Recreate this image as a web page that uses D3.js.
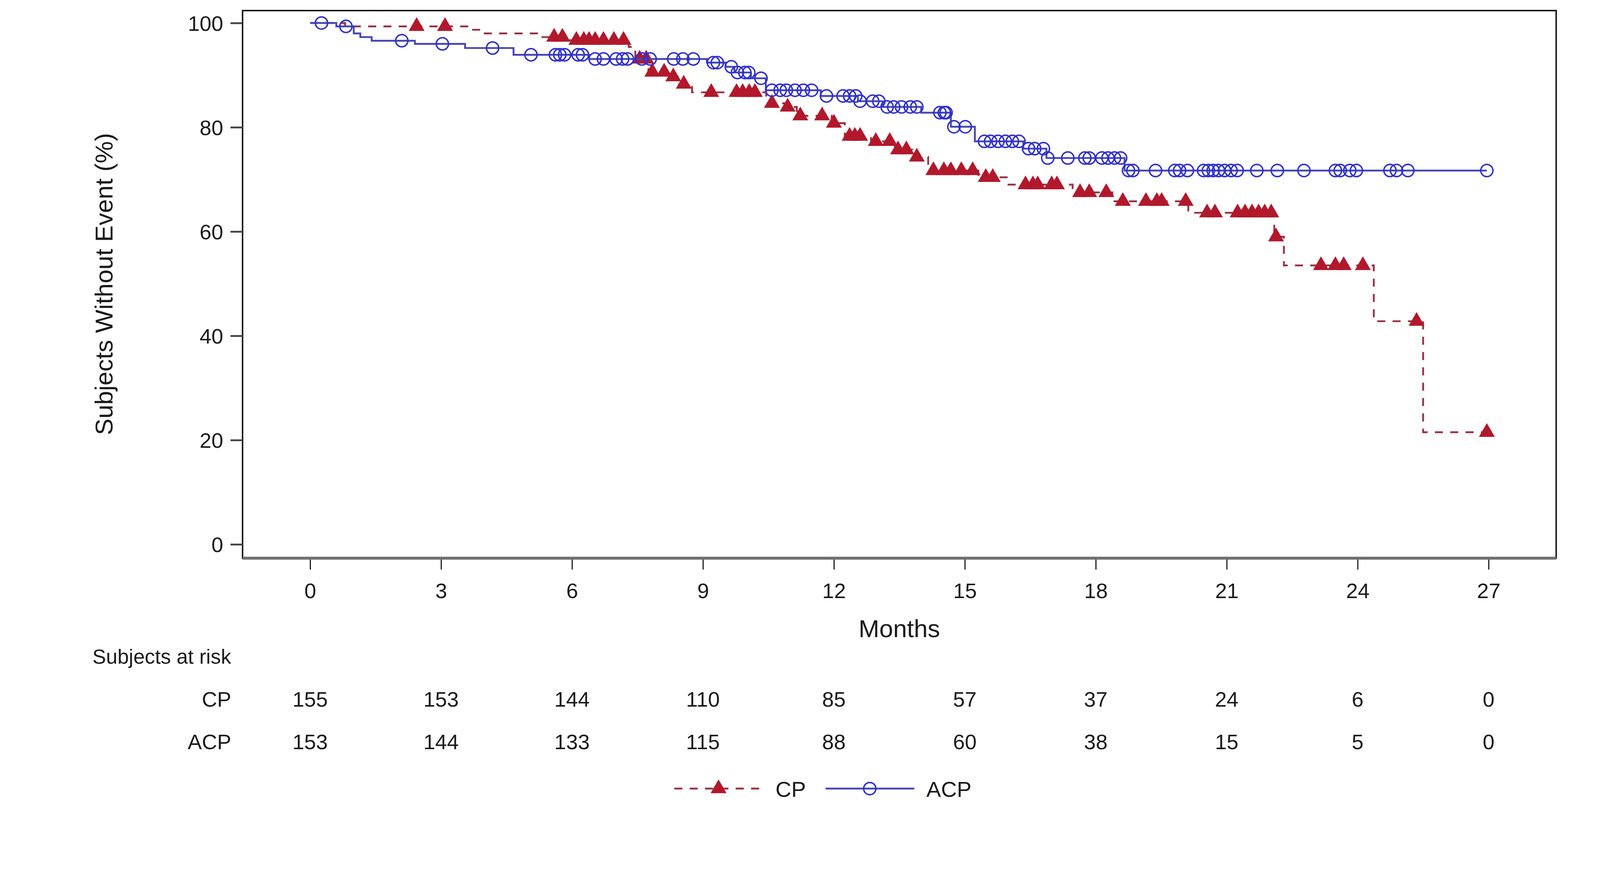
<!DOCTYPE html>
<html>
<head>
<meta charset="utf-8">
<script src="https://cdn.jsdelivr.net/npm/d3@7/dist/d3.min.js"></script>
<style>
  html, body { margin: 0; padding: 0; width: 100%; height: 100%; overflow: hidden; background: #fff; }
  svg { display: block; width: 100vw; height: 100vh; }
  text { font-family: "Liberation Sans", Arial, sans-serif; fill: #1a1a1a; }
</style>
</head>
<body>
<svg id="chart" viewBox="0 0 4380 2231" preserveAspectRatio="xMidYMin meet"></svg>
<script>
var tickMonths = [0, 3, 6, 9, 12, 15, 18, 21, 24, 27]
var yTicks = [0, 20, 40, 60, 80, 100]

// CP: step times (months) and survival after each step
var cpStepMonths = [0, 0.8, 3.7, 3.9, 5.2, 5.95, 7.3, 7.45, 7.75, 8.2, 8.45, 8.75, 10.45, 10.88, 11.15, 11.95, 12.25, 12.85, 13.4, 13.8, 14.16, 15.31, 16.0, 17.47, 18.38, 20.12, 22.09, 22.31, 24.37, 25.5]
var cpStepValues = [100, 99.35, 98.7, 98.0, 97.3, 96.7, 95.4, 93.1, 90.6, 89.7, 88.3, 86.7, 84.6, 83.9, 82.2, 80.8, 78.3, 77.3, 75.7, 74.3, 71.7, 70.4, 69.0, 67.5, 65.8, 63.6, 59.0, 53.5, 42.8, 21.5]
var cpCensorMonths = [2.44, 3.09, 5.59, 5.78, 6.1, 6.27, 6.39, 6.53, 6.72, 6.96, 7.18, 7.55, 7.7, 7.84, 8.11, 8.32, 8.56, 9.19, 9.77, 9.91, 10.06, 10.19, 10.58, 10.94, 11.23, 11.73, 12.0, 12.36, 12.48, 12.6, 12.96, 13.28, 13.47, 13.66, 13.9, 14.28, 14.52, 14.68, 14.92, 15.18, 15.48, 15.64, 16.39, 16.56, 16.67, 16.99, 17.11, 17.64, 17.85, 18.24, 18.62, 19.15, 19.4, 19.51, 20.06, 20.55, 20.73, 21.25, 21.42, 21.58, 21.73, 21.87, 22.02, 22.13, 23.16, 23.49, 23.68, 24.12, 25.35, 26.96]

// ACP
var acpStepMonths = [0, 0.6, 1.0, 1.15, 1.41, 2.4, 3.55, 4.66, 6.39, 9.09, 9.52, 9.72, 10.1, 10.44, 11.7, 12.55, 13.12, 14.0, 14.68, 15.23, 16.34, 16.87, 18.66]
var acpStepValues = [100, 99.35, 98.0, 97.3, 96.6, 96.0, 95.2, 93.9, 93.1, 92.4, 91.6, 90.5, 89.4, 87.1, 86.0, 85.0, 83.9, 82.8, 80.1, 77.3, 75.9, 74.1, 71.7]
var acpCensorMonths = [0.26, 0.82, 2.1, 3.03, 4.18, 5.06, 5.62, 5.72, 5.83, 6.14, 6.24, 6.53, 6.72, 7.01, 7.16, 7.27, 7.6, 7.79, 8.33, 8.54, 8.78, 9.24, 9.33, 9.65, 9.79, 9.96, 10.05, 10.33, 10.58, 10.77, 10.91, 11.11, 11.3, 11.49, 11.83, 12.21, 12.36, 12.5, 12.6, 12.89, 13.03, 13.22, 13.37, 13.55, 13.75, 13.9, 14.43, 14.53, 14.57, 14.75, 15.01, 15.45, 15.59, 15.76, 15.93, 16.09, 16.24, 16.46, 16.6, 16.8, 16.9, 17.36, 17.75, 17.85, 18.14, 18.28, 18.43, 18.57, 18.75, 18.85, 19.37, 19.81, 19.92, 20.1, 20.47, 20.58, 20.69, 20.81, 20.95, 21.1, 21.24, 21.69, 22.16, 22.77, 23.49, 23.6, 23.82, 23.97, 24.74, 24.89, 25.15, 26.96]

var riskGroups = ['CP', 'ACP']
var riskCP = [155, 153, 144, 110, 85, 57, 37, 24, 6, 0]
var riskACP = [153, 144, 133, 115, 88, 60, 38, 15, 5, 0]

var red = '#b2182b', redLine = '#9a3044'
var blue = '#2f2fd0', blueLine = '#4646b4'

var svg = d3.select('#chart')
var frame = {left: 664, top: 29, right: 4260, bottom: 1529}

var x = d3.scaleLinear().domain([0, 27]).range([849, 4075])
var y = d3.scaleLinear().domain([0, 100]).range([1491, 63])

function stepPoints(times, values, censors) {
  var pts = times.map(function(t, i) { return [t, values[i]] })
  pts.push([d3.max(censors), values[values.length - 1]])
  return pts
}
function valueAt(times, values, t) {
  return values[d3.bisectRight(times, t) - 1]
}

var line = d3.line()
  .x(function(d) { return x(d[0]) })
  .y(function(d) { return y(d[1]) })
  .curve(d3.curveStepAfter)

var triangle = d3.symbol().type(d3.symbolTriangle).size(820)
var circle = d3.symbol().type(d3.symbolCircle).size(880)

// frame
svg.append('rect')
  .attr('x', frame.left).attr('y', frame.top)
  .attr('width', frame.right - frame.left).attr('height', frame.bottom - frame.top)
  .attr('fill', 'none').attr('stroke', '#111').attr('stroke-width', 4)

// y axis
var yAxis = svg.append('g')
  .attr('transform', 'translate(' + frame.left + ',0)')
  .call(d3.axisLeft(y).tickValues(yTicks).tickSize(33).tickPadding(20))
yAxis.select('.domain').remove()
yAxis.selectAll('line').attr('stroke', '#444').attr('stroke-width', 5)
yAxis.selectAll('text').attr('font-size', 58).attr('dy', '0.36em')
  .style('font-family', '"Liberation Sans", Arial, sans-serif').attr('fill', '#1a1a1a')

// x axis
var xAxis = svg.append('g')
  .attr('transform', 'translate(0,' + frame.bottom + ')')
  .call(d3.axisBottom(x).tickValues(tickMonths).tickSize(31).tickPadding(0))
xAxis.select('.domain').remove()
xAxis.selectAll('line').attr('stroke', '#111').attr('stroke-width', 3)
xAxis.selectAll('text').attr('font-size', 58).attr('y', 109).attr('dy', null)
  .style('font-family', '"Liberation Sans", Arial, sans-serif').attr('fill', '#1a1a1a')
svg.append('line')
  .attr('x1', frame.left).attr('x2', frame.right)
  .attr('y1', frame.bottom).attr('y2', frame.bottom)
  .attr('stroke', '#707070').attr('stroke-width', 8)

// axis titles
svg.append('text')
  .attr('transform', 'translate(308,778) rotate(-90)')
  .attr('text-anchor', 'middle')
  .attr('font-size', 68)
  .text('Subjects Without Event (%)')
svg.append('text')
  .attr('x', (frame.left + frame.right) / 2).attr('y', 1745)
  .attr('text-anchor', 'middle')
  .attr('font-size', 68)
  .text('Months')

// curves
var cpPts = stepPoints(cpStepMonths, cpStepValues, cpCensorMonths)
var acpPts = stepPoints(acpStepMonths, acpStepValues, acpCensorMonths)

svg.append('path')
  .datum(cpPts)
  .attr('d', line)
  .attr('fill', 'none')
  .attr('stroke', redLine)
  .attr('stroke-width', 5)
  .attr('stroke-dasharray', '22,20')

svg.append('g').selectAll('path')
  .data(cpCensorMonths)
  .enter().append('path')
  .attr('d', triangle)
  .attr('transform', function(t) {
    return 'translate(' + x(t) + ',' + y(valueAt(cpStepMonths, cpStepValues, t)) + ')'
  })
  .attr('fill', red)

svg.append('path')
  .datum(acpPts)
  .attr('d', line)
  .attr('fill', 'none')
  .attr('stroke', blueLine)
  .attr('stroke-width', 5)

svg.append('g').selectAll('path')
  .data(acpCensorMonths)
  .enter().append('path')
  .attr('d', circle)
  .attr('transform', function(t) {
    return 'translate(' + x(t) + ',' + y(valueAt(acpStepMonths, acpStepValues, t)) + ')'
  })
  .attr('fill', 'none')
  .attr('stroke', blue)
  .attr('stroke-width', 4)

// subjects at risk
svg.append('text')
  .attr('x', 253).attr('y', 1818)
  .attr('font-size', 56)
  .text('Subjects at risk')

var riskRows = [riskCP, riskACP]
riskRows.forEach(function(row, r) {
  var by = 1935 + r * 117
  svg.append('text')
    .attr('x', 633).attr('y', by)
    .attr('text-anchor', 'end')
    .attr('font-size', 58)
    .text(riskGroups[r])
  svg.append('g').selectAll('text')
    .data(row)
    .enter().append('text')
    .attr('x', function(d, i) { return x(tickMonths[i]) })
    .attr('y', by)
    .attr('text-anchor', 'middle')
    .attr('font-size', 58)
    .text(function(d) { return d })
})

// legend
var lg = svg.append('g')
lg.append('line')
  .attr('x1', 1846).attr('x2', 2085).attr('y1', 2160).attr('y2', 2160)
  .attr('stroke', redLine).attr('stroke-width', 5).attr('stroke-dasharray', '22,20')
lg.append('path').attr('d', triangle).attr('transform', 'translate(1967,2160)').attr('fill', red)
lg.append('text').attr('x', 2123).attr('y', 2183).attr('font-size', 60).text('CP')
lg.append('line')
  .attr('x1', 2260).attr('x2', 2503).attr('y1', 2160).attr('y2', 2160)
  .attr('stroke', blueLine).attr('stroke-width', 5)
lg.append('path').attr('d', circle).attr('transform', 'translate(2381,2160)')
  .attr('fill', 'none').attr('stroke', blue).attr('stroke-width', 4)
lg.append('text').attr('x', 2536).attr('y', 2183).attr('font-size', 60).text('ACP')
</script>
</body>
</html>
